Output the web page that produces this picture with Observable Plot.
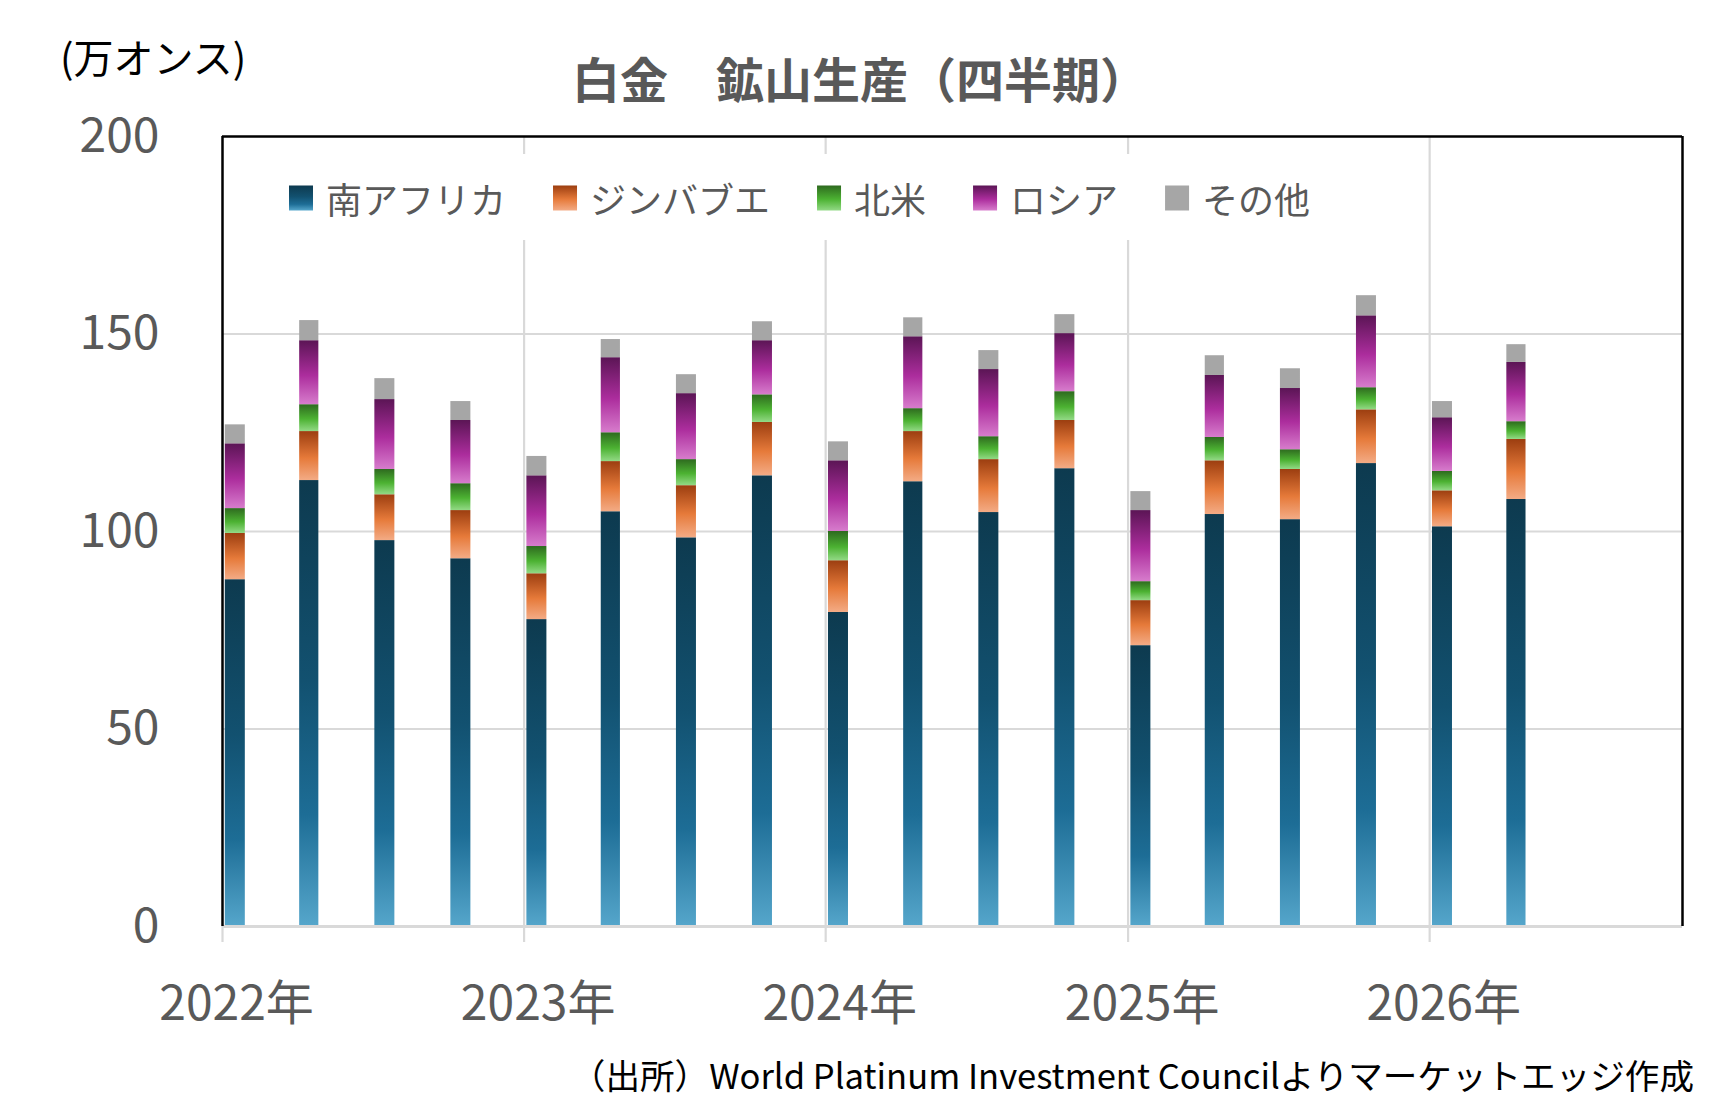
<!DOCTYPE html>
<html><head><meta charset="utf-8">
<script src="https://cdn.jsdelivr.net/npm/d3@7"></script>
<script src="https://cdn.jsdelivr.net/npm/@observablehq/plot@0.6"></script>
<style>
html,body{margin:0;padding:0;background:#fff;overflow:hidden}
</style></head><body>
<div id="chart"></div>
<script>
// ---- data (万オンス) ----
const regions = ["南アフリカ", "ジンバブエ", "北米", "ロシア", "その他"];
const quarters = ["2022-01","2022-04","2022-07","2022-10",
                  "2023-01","2023-04","2023-07","2023-10",
                  "2024-01","2024-04","2024-07","2024-10",
                  "2025-01","2025-04","2025-07","2025-10",
                  "2026-01","2026-04"];
const southAfrica  = [87.8,112.9,97.7,93.1, 77.7,105.0,98.4,114.1, 79.5,112.6,104.8,115.9, 71.1,104.3,103.0,117.2, 101.2,108.1];
const zimbabwe     = [11.7,12.4,11.6,12.2, 11.6,12.7,13.2,13.5, 13.1,12.7,13.4,12.2, 11.4,13.6,12.7,13.6, 9.1,15.2];
const northAmerica = [6.3,6.8,6.4,6.8, 6.9,7.3,6.6,7.0, 7.4,5.8,5.8,7.3, 4.8,5.9,5.0,5.6, 4.9,4.5];
const russia       = [16.4,16.2,17.7,16.0, 17.9,19.0,16.7,13.7, 17.9,18.2,17.0,14.7, 18.0,15.7,15.5,18.2, 13.6,15.0];
const other        = [4.8,5.1,5.3,4.8, 4.9,4.6,4.8,4.8, 4.8,4.8,4.8,4.8, 4.8,5.0,5.0,5.1, 4.1,4.5];
const years = [2022, 2023, 2024, 2025, 2026];
const yTicks = [0, 50, 100, 150, 200];

const title = "白金　鉱山生産（四半期）";
const unitLabel = "(万オンス)";
const caption = "（出所）World Platinum Investment Councilよりマーケットエッジ作成";

// gradient stops per series (top -> bottom)
const gradients = [
  [["0%","#0d3a4f"],["45%","#125170"],["75%","#1d6d96"],["100%","#55a6cb"]],
  [["0%","#9c3e10"],["55%","#e67a3a"],["100%","#f3ab85"]],
  [["0%","#2e6a1f"],["55%","#4cb232"],["100%","#92d985"]],
  [["0%","#5b1555"],["55%","#ac2d9d"],["100%","#d77ccc"]],
  [["0%","#a6a6a6"],["100%","#a6a6a6"]]
];

const parse = d3.utcParse("%Y-%m");
const series = [southAfrica, zimbabwe, northAmerica, russia, other];
const data = [];
quarters.forEach((q, i) => {
  regions.forEach((r, j) => data.push({date: parse(q), region: r, value: series[j][i]}));
});
const yearStarts = years.map(y => new Date(Date.UTC(y, 0, 1)));
const yearLabelPos = years.map(y => new Date(Date.UTC(y, 0, 18)));
const xDomain = [new Date(Date.UTC(2022, 0, 1)), new Date(Date.UTC(2026, 10, 3))];

const W = 1733, H = 1118;
const FONT = "'Noto Sans CJK JP', 'Noto Sans', sans-serif";
const grid = "#d9d9d9";

const svg = Plot.plot({
  width: W, height: H,
  marginLeft: 222, marginRight: 51, marginTop: 136, marginBottom: 192,
  style: {fontFamily: FONT, background: "#fff", overflow: "visible"},
  x: {type: "utc", domain: xDomain, label: null},
  y: {domain: [0, 200], label: null},
  color: {type: "ordinal", domain: regions, range: regions.map((_, i) => `url(#grad${i})`)},
  marks: [
    Plot.gridY(yTicks.slice(1, -1), {stroke: grid, strokeOpacity: 1, strokeWidth: 2.2}),
    Plot.gridX(yearStarts.slice(1), {stroke: grid, strokeOpacity: 1, strokeWidth: 2.2}),
    Plot.axisX(yearStarts, {tickSize: 16, tickFormat: () => "", stroke: grid, strokeWidth: 2.2, label: null}),
    Plot.axisX(yearLabelPos, {tickSize: 0, tickPadding: 59, tickFormat: d => `${d.getUTCFullYear()}年`, fontSize: 48, color: "#595959", label: null}),
    Plot.axisY(yTicks, {tickSize: 0, tickPadding: 63, fontSize: 48, color: "#595959", label: null}),
    Plot.rectY(data, {x: "date", interval: "month", y: "value", fill: "region", insetLeft: 2.8, insetRight: 2.8}),
    Plot.ruleY([0], {stroke: grid, strokeWidth: 3}),
    Plot.ruleX(xDomain, {stroke: "#000", strokeWidth: 2.5}),
    Plot.ruleY([200], {stroke: "#000", strokeWidth: 2.5})
  ]
});
document.getElementById("chart").appendChild(svg);

const s = d3.select(svg);
const defs = s.insert("defs", ":first-child");
gradients.forEach((stops, i) => {
  const g = defs.append("linearGradient").attr("id", `grad${i}`)
    .attr("x1", 0).attr("y1", 0).attr("x2", 0).attr("y2", 1);
  stops.forEach(([o, c]) => g.append("stop").attr("offset", o).attr("stop-color", c));
});

// title, unit label, caption
s.append("text").attr("x", 860).attr("y", 77).attr("text-anchor", "middle")
  .attr("dominant-baseline", "central").attr("font-size", 48).attr("font-weight", "bold")
  .attr("fill", "#595959").attr("font-family", FONT).text(title);
s.append("text").attr("x", 60).attr("y", 56).attr("text-anchor", "start").attr("dominant-baseline", "central")
  .attr("font-size", 40).attr("fill", "#000").attr("font-family", FONT).text(unitLabel);
s.append("text").attr("x", 1694).attr("y", 1074).attr("text-anchor", "end")
  .attr("dominant-baseline", "central").attr("font-size", 34.6).attr("fill", "#000")
  .attr("font-family", FONT).text(caption);

// legend inside plot frame
const lg = s.append("g");
const bg = lg.append("rect").attr("fill", "#fff");
let lx = 289;
const ly = 198;
regions.forEach((r, i) => {
  lg.append("rect").attr("x", lx).attr("y", ly - 12.5).attr("width", 24).attr("height", 25)
    .attr("fill", `url(#grad${i})`);
  const t = lg.append("text").attr("x", lx + 37).attr("y", ly).attr("text-anchor", "start")
    .attr("dominant-baseline", "central")
    .attr("font-size", 36).attr("fill", "#595959").attr("font-family", FONT).text(r);
  lx += 37 + t.node().getComputedTextLength() + 47;
});
bg.attr("x", 268).attr("y", 154).attr("width", lx - 47 + 22 - 268).attr("height", 86);
</script>
</body></html>
